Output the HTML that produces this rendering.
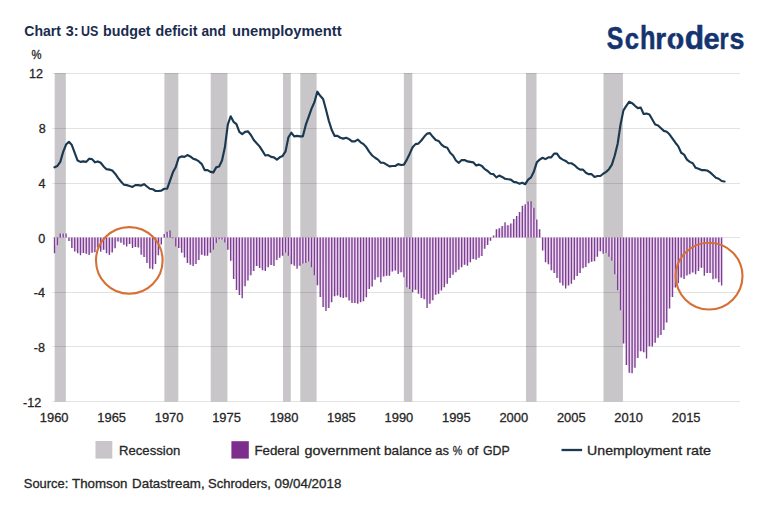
<!DOCTYPE html><html><head><meta charset="utf-8"><style>html,body{margin:0;padding:0;background:#fff;width:768px;height:513px;overflow:hidden}svg{display:block}text{font-family:"Liberation Sans",Arial,sans-serif}.t{stroke:#262626;stroke-width:0.3px;paint-order:stroke}</style></head><body>
<svg width="768" height="513" viewBox="0 0 768 513">
<rect width="768" height="513" fill="#fff"/>
<rect x="54.70" y="73.00" width="11.10" height="328.50" fill="#c8c6c8"/>
<rect x="164.40" y="73.00" width="13.90" height="328.50" fill="#c8c6c8"/>
<rect x="210.70" y="73.00" width="16.70" height="328.50" fill="#c8c6c8"/>
<rect x="283.00" y="73.00" width="7.80" height="328.50" fill="#c8c6c8"/>
<rect x="300.30" y="73.00" width="16.30" height="328.50" fill="#c8c6c8"/>
<rect x="403.90" y="73.00" width="8.40" height="328.50" fill="#c8c6c8"/>
<rect x="526.00" y="73.00" width="10.50" height="328.50" fill="#c8c6c8"/>
<rect x="603.50" y="73.00" width="19.40" height="328.50" fill="#c8c6c8"/>
<line x1="52.5" x2="740" y1="73.50" y2="73.50" stroke="rgba(0,0,0,0.115)" stroke-width="1"/>
<line x1="52.5" x2="740" y1="128.50" y2="128.50" stroke="rgba(0,0,0,0.115)" stroke-width="1"/>
<line x1="52.5" x2="740" y1="183.50" y2="183.50" stroke="rgba(0,0,0,0.115)" stroke-width="1"/>
<line x1="52.5" x2="740" y1="237.50" y2="237.50" stroke="rgba(0,0,0,0.115)" stroke-width="1"/>
<line x1="52.5" x2="740" y1="292.50" y2="292.50" stroke="rgba(0,0,0,0.115)" stroke-width="1"/>
<line x1="52.5" x2="740" y1="346.50" y2="346.50" stroke="rgba(0,0,0,0.115)" stroke-width="1"/>
<line x1="52.5" x2="740" y1="401.50" y2="401.50" stroke="rgba(0,0,0,0.115)" stroke-width="1"/>
<path d="M54.50 237.50H57.39v7.65H54.50zM60.28 233.40H63.16v4.10H60.28zM63.16 233.40H66.05v4.10H63.16zM68.94 237.50H71.83v3.42H68.94zM71.83 237.50H74.72v10.39H71.83zM74.72 237.50H77.60v13.94H74.72zM77.60 237.50H80.49v15.85H77.60zM80.49 237.50H83.38v15.44H80.49zM83.38 237.50H86.27v15.44H83.38zM86.27 237.50H89.16v16.26H86.27zM89.16 237.50H92.04v15.31H89.16zM92.04 237.50H94.93v14.76H92.04zM94.93 237.50H97.82v9.98H94.93zM97.82 237.50H100.71v9.98H97.82zM100.71 237.50H103.60v12.30H100.71zM103.60 237.50H106.48v12.30H103.60zM106.48 237.50H109.37v15.85H106.48zM109.37 237.50H112.26v15.03H109.37zM112.26 237.50H115.15v10.66H112.26zM115.15 237.50H118.04v4.10H115.15zM118.04 237.50H120.92v4.10H118.04zM120.92 237.50H123.81v5.19H120.92zM123.81 237.50H126.70v7.24H123.81zM126.70 237.50H129.59v6.56H126.70zM129.59 237.50H132.48v6.56H129.59zM132.48 237.50H135.36v9.43H132.48zM135.36 237.50H138.25v9.43H135.36zM138.25 237.50H141.14v10.11H138.25zM141.14 237.50H144.03v17.22H141.14zM144.03 237.50H146.92v19.41H144.03zM146.92 237.50H149.80v25.56H146.92zM149.80 237.50H152.69v30.89H149.80zM152.69 237.50H155.58v26.51H152.69zM155.58 237.50H158.47v17.77H155.58zM158.47 237.50H161.36v6.97H158.47zM164.24 234.08H167.13v3.42H164.24zM167.13 231.76H170.02v5.74H167.13zM172.91 237.50H175.80v0.68H172.91zM175.80 237.50H178.68v8.88H175.80zM178.68 237.50H181.57v10.39H178.68zM181.57 237.50H184.46v15.31H181.57zM184.46 237.50H187.35v20.09H184.46zM187.35 237.50H190.24v25.42H187.35zM190.24 237.50H193.12v27.33H190.24zM193.12 237.50H196.01v26.51H193.12zM196.01 237.50H198.90v22.55H196.01zM198.90 237.50H201.79v17.22H198.90zM201.79 237.50H204.68v17.22H201.79zM204.68 237.50H207.56v18.18H204.68zM207.56 237.50H210.45v15.31H207.56zM210.45 237.50H213.34v12.30H210.45zM213.34 237.50H216.23v5.47H213.34zM216.23 237.50H219.12v1.64H216.23zM219.12 237.50H222.00v1.64H219.12zM222.00 237.50H224.89v1.91H222.00zM224.89 237.50H227.78v4.92H224.89zM227.78 237.50H230.67v12.30H227.78zM230.67 237.50H233.56v23.23H230.67zM233.56 237.50H236.44v41.55H233.56zM236.44 237.50H239.33v52.48H236.44zM239.33 237.50H242.22v57.40H239.33zM242.22 237.50H245.11v48.79H242.22zM245.11 237.50H248.00v42.91H245.11zM248.00 237.50H250.88v37.72H248.00zM250.88 237.50H253.77v33.48H250.88zM253.77 237.50H256.66v28.43H253.77zM256.66 237.50H259.55v28.43H256.66zM259.55 237.50H262.44v30.48H259.55zM262.44 237.50H265.32v32.66H262.44zM265.32 237.50H268.21v29.79H265.32zM268.21 237.50H271.10v27.61H268.21zM271.10 237.50H273.99v27.61H271.10zM273.99 237.50H276.88v22.55H273.99zM276.88 237.50H279.76v20.23H276.88zM279.76 237.50H282.65v18.18H279.76zM282.65 237.50H285.54v15.17H282.65zM285.54 237.50H288.43v15.17H285.54zM288.43 237.50H291.32v18.18H288.43zM291.32 237.50H294.20v26.79H291.32zM294.20 237.50H297.09v28.29H294.20zM297.09 237.50H299.98v28.29H297.09zM299.98 237.50H302.87v26.10H299.98zM302.87 237.50H305.76v25.42H302.87zM305.76 237.50H308.64v23.92H305.76zM308.64 237.50H311.53v23.92H308.64zM311.53 237.50H314.42v29.79H311.53zM314.42 237.50H317.31v37.86H314.42zM317.31 237.50H320.20v47.83H317.31zM320.20 237.50H323.08v59.45H320.20zM323.08 237.50H325.97v69.57H323.08zM325.97 237.50H328.86v70.39H325.97zM328.86 237.50H331.75v64.64H328.86zM331.75 237.50H334.64v58.77H331.75zM334.64 237.50H337.52v57.95H334.64zM337.52 237.50H340.41v57.95H337.52zM340.41 237.50H343.30v59.72H340.41zM343.30 237.50H346.19v59.72H343.30zM346.19 237.50H349.08v59.72H346.19zM349.08 237.50H351.96v63.00H349.08zM351.96 237.50H354.85v65.46H351.96zM354.85 237.50H357.74v65.46H354.85zM357.74 237.50H360.63v64.64H357.74zM360.63 237.50H363.52v63.82H360.63zM363.52 237.50H366.40v59.72H363.52zM366.40 237.50H369.29v51.39H366.40zM369.29 237.50H372.18v48.93H369.29zM372.18 237.50H375.07v42.23H372.18zM375.07 237.50H377.96v39.77H375.07zM377.96 237.50H380.84v39.77H377.96zM380.84 237.50H383.73v38.95H380.84zM383.73 237.50H386.62v38.13H383.73zM386.62 237.50H389.51v38.13H386.62zM389.51 237.50H392.40v34.03H389.51zM392.40 237.50H395.28v33.07H392.40zM395.28 237.50H398.17v33.07H395.28zM398.17 237.50H401.06v34.85H398.17zM401.06 237.50H403.95v34.85H401.06zM403.95 237.50H406.84v39.77H403.95zM406.84 237.50H409.72v49.75H406.84zM409.72 237.50H412.61v51.39H409.72zM412.61 237.50H415.50v52.21H412.61zM415.50 237.50H418.39v52.21H415.50zM418.39 237.50H421.28v56.31H418.39zM421.28 237.50H424.16v60.54H421.28zM424.16 237.50H427.05v61.77H424.16zM427.05 237.50H429.94v66.28H427.05zM429.94 237.50H432.83v62.87H429.94zM432.83 237.50H435.72v57.13H432.83zM435.72 237.50H438.60v56.31H435.72zM438.60 237.50H441.49v53.03H438.60zM441.49 237.50H444.38v49.75H441.49zM444.38 237.50H447.27v46.33H444.38zM447.27 237.50H450.16v40.45H447.27zM450.16 237.50H453.04v37.17H450.16zM453.04 237.50H455.93v34.71H453.04zM455.93 237.50H458.82v32.25H455.93zM458.82 237.50H461.71v29.79H458.82zM461.71 237.50H464.60v27.33H461.71zM464.60 237.50H467.48v27.33H464.60zM467.48 237.50H470.37v24.87H467.48zM470.37 237.50H473.26v21.46H470.37zM473.26 237.50H476.15v21.46H473.26zM476.15 237.50H479.04v20.23H476.15zM479.04 237.50H481.92v18.45H479.04zM481.92 237.50H484.81v11.34H481.92zM484.81 237.50H487.70v7.52H484.81zM487.70 237.50H490.59v3.14H487.70zM493.48 235.45H496.36v2.05H493.48zM496.36 229.30H499.25v8.20H496.36zM499.25 228.21H502.14v9.29H499.25zM502.14 226.02H505.03v11.48H502.14zM505.03 225.34H507.92v12.16H505.03zM507.92 225.34H510.80v12.16H507.92zM510.80 223.56H513.69v13.94H510.80zM513.69 219.05H516.58v18.45H513.69zM516.58 215.91H519.47v21.59H516.58zM519.47 212.08H522.36v25.42H519.47zM522.36 205.79H525.24v31.71H522.36zM525.24 204.15H528.13v33.35H525.24zM528.13 201.56H531.02v35.94H528.13zM531.02 207.71H533.91v29.79H531.02zM533.91 219.60H536.80v17.90H533.91zM536.80 229.16H539.68v8.34H536.80zM542.57 237.50H545.46v13.12H542.57zM545.46 237.50H548.35v24.74H545.46zM548.35 237.50H551.24v26.65H548.35zM551.24 237.50H554.12v32.66H551.24zM554.12 237.50H557.01v35.53H554.12zM557.01 237.50H559.90v40.45H557.01zM559.90 237.50H562.79v45.24H559.90zM562.79 237.50H565.68v48.11H562.79zM565.68 237.50H568.56v48.11H565.68zM568.56 237.50H571.45v46.33H568.56zM571.45 237.50H574.34v42.37H571.45zM574.34 237.50H577.23v38.54H574.34zM577.23 237.50H580.12v35.53H577.23zM580.12 237.50H583.00v30.75H580.12zM583.00 237.50H585.89v29.38H583.00zM585.89 237.50H588.78v25.69H585.89zM588.78 237.50H591.67v24.33H588.78zM591.67 237.50H594.56v23.78H591.67zM594.56 237.50H597.44v19.13H594.56zM597.44 237.50H600.33v13.80H597.44zM600.33 237.50H603.22v13.80H600.33zM603.22 237.50H606.11v15.58H603.22zM606.11 237.50H609.00v15.58H606.11zM609.00 237.50H611.88v19.13H609.00zM611.88 237.50H614.77v23.23H611.88zM614.77 237.50H617.66v36.63H614.77zM617.66 237.50H620.55v52.75H617.66zM620.55 237.50H623.44v72.71H620.55zM623.44 237.50H626.32v105.92H623.44zM626.32 237.50H629.21v127.38H626.32zM629.21 237.50H632.10v135.17H629.21zM632.10 237.50H634.99v130.25H632.10zM634.99 237.50H637.88v120.54H634.99zM637.88 237.50H640.76v113.85H637.88zM640.76 237.50H643.65v113.85H640.76zM643.65 237.50H646.54v114.80H643.65zM646.54 237.50H649.43v108.65H646.54zM649.43 237.50H652.32v108.65H649.43zM652.32 237.50H655.20v105.24H652.32zM655.20 237.50H658.09v100.18H655.20zM658.09 237.50H660.98v97.58H658.09zM660.98 237.50H663.87v92.53H660.98zM663.87 237.50H666.76v85.01H663.87zM666.76 237.50H669.64v71.07H666.76zM669.64 237.50H672.53v59.45H669.64zM672.53 237.50H675.42v49.88H672.53zM675.42 237.50H678.31v45.78H675.42zM678.31 237.50H681.20v40.04H678.31zM681.20 237.50H684.08v40.04H681.20zM684.08 237.50H686.97v37.99H684.08zM686.97 237.50H689.86v36.63H686.97zM689.86 237.50H692.75v34.99H689.86zM692.75 237.50H695.64v34.99H692.75zM695.64 237.50H698.52v33.48H695.64zM698.52 237.50H701.41v30.34H698.52zM701.41 237.50H704.30v30.34H701.41zM704.30 237.50H707.19v35.53H704.30zM707.19 237.50H710.08v35.53H707.19zM710.08 237.50H712.96v35.53H710.08zM712.96 237.50H715.85v41.00H712.96zM715.85 237.50H718.74v41.00H715.85zM718.74 237.50H721.63v44.83H718.74z" fill="#ecd6f0"/>
<path d="M53.83 237.50h1.35v15.85h-1.35zM56.71 237.50h1.35v7.65h-1.35zM59.60 233.40h1.35v4.10h-1.35zM62.49 233.40h1.35v4.10h-1.35zM65.38 233.40h1.35v4.10h-1.35zM68.27 237.50h1.35v3.42h-1.35zM71.15 237.50h1.35v10.39h-1.35zM74.04 237.50h1.35v13.94h-1.35zM76.93 237.50h1.35v15.85h-1.35zM79.82 237.50h1.35v17.77h-1.35zM82.70 237.50h1.35v15.44h-1.35zM85.59 237.50h1.35v16.26h-1.35zM88.48 237.50h1.35v17.49h-1.35zM91.37 237.50h1.35v15.31h-1.35zM94.26 237.50h1.35v14.76h-1.35zM97.14 237.50h1.35v9.98h-1.35zM100.03 237.50h1.35v14.35h-1.35zM102.92 237.50h1.35v12.30h-1.35zM105.81 237.50h1.35v15.85h-1.35zM108.70 237.50h1.35v17.49h-1.35zM111.58 237.50h1.35v15.03h-1.35zM114.47 237.50h1.35v10.66h-1.35zM117.36 237.50h1.35v4.10h-1.35zM120.25 237.50h1.35v5.19h-1.35zM123.14 237.50h1.35v7.24h-1.35zM126.03 237.50h1.35v8.88h-1.35zM128.91 237.50h1.35v6.56h-1.35zM131.80 237.50h1.35v10.39h-1.35zM134.69 237.50h1.35v9.43h-1.35zM137.58 237.50h1.35v10.11h-1.35zM140.46 237.50h1.35v17.22h-1.35zM143.35 237.50h1.35v19.41h-1.35zM146.24 237.50h1.35v25.56h-1.35zM149.13 237.50h1.35v30.89h-1.35zM152.02 237.50h1.35v31.84h-1.35zM154.90 237.50h1.35v26.51h-1.35zM157.79 237.50h1.35v17.77h-1.35zM160.68 237.50h1.35v6.97h-1.35zM163.57 234.08h1.35v3.42h-1.35zM166.46 231.76h1.35v5.74h-1.35zM169.34 230.39h1.35v7.11h-1.35zM172.23 237.50h1.35v0.68h-1.35zM175.12 237.50h1.35v8.88h-1.35zM178.01 237.50h1.35v10.39h-1.35zM180.90 237.50h1.35v15.31h-1.35zM183.78 237.50h1.35v20.09h-1.35zM186.67 237.50h1.35v25.42h-1.35zM189.56 237.50h1.35v27.33h-1.35zM192.45 237.50h1.35v28.43h-1.35zM195.34 237.50h1.35v26.51h-1.35zM198.22 237.50h1.35v22.55h-1.35zM201.11 237.50h1.35v17.22h-1.35zM204.00 237.50h1.35v18.18h-1.35zM206.89 237.50h1.35v18.18h-1.35zM209.78 237.50h1.35v15.31h-1.35zM212.66 237.50h1.35v12.30h-1.35zM215.55 237.50h1.35v5.47h-1.35zM218.44 237.50h1.35v1.64h-1.35zM221.33 237.50h1.35v1.91h-1.35zM224.22 237.50h1.35v4.92h-1.35zM227.10 237.50h1.35v12.30h-1.35zM229.99 237.50h1.35v23.23h-1.35zM232.88 237.50h1.35v41.55h-1.35zM235.77 237.50h1.35v52.48h-1.35zM238.66 237.50h1.35v57.40h-1.35zM241.54 237.50h1.35v60.82h-1.35zM244.43 237.50h1.35v48.79h-1.35zM247.32 237.50h1.35v42.91h-1.35zM250.21 237.50h1.35v37.72h-1.35zM253.10 237.50h1.35v33.48h-1.35zM255.98 237.50h1.35v28.43h-1.35zM258.87 237.50h1.35v30.48h-1.35zM261.76 237.50h1.35v32.66h-1.35zM264.65 237.50h1.35v33.48h-1.35zM267.54 237.50h1.35v29.79h-1.35zM270.43 237.50h1.35v27.61h-1.35zM273.31 237.50h1.35v28.43h-1.35zM276.20 237.50h1.35v22.55h-1.35zM279.09 237.50h1.35v20.23h-1.35zM281.98 237.50h1.35v18.18h-1.35zM284.86 237.50h1.35v15.17h-1.35zM287.75 237.50h1.35v18.18h-1.35zM290.64 237.50h1.35v26.79h-1.35zM293.53 237.50h1.35v28.29h-1.35zM296.42 237.50h1.35v31.30h-1.35zM299.31 237.50h1.35v28.29h-1.35zM302.19 237.50h1.35v26.10h-1.35zM305.08 237.50h1.35v25.42h-1.35zM307.97 237.50h1.35v23.92h-1.35zM310.86 237.50h1.35v29.79h-1.35zM313.75 237.50h1.35v37.86h-1.35zM316.63 237.50h1.35v47.83h-1.35zM319.52 237.50h1.35v59.45h-1.35zM322.41 237.50h1.35v69.57h-1.35zM325.30 237.50h1.35v73.39h-1.35zM328.19 237.50h1.35v70.39h-1.35zM331.07 237.50h1.35v64.64h-1.35zM333.96 237.50h1.35v58.77h-1.35zM336.85 237.50h1.35v57.95h-1.35zM339.74 237.50h1.35v59.72h-1.35zM342.62 237.50h1.35v60.54h-1.35zM345.51 237.50h1.35v59.72h-1.35zM348.40 237.50h1.35v63.00h-1.35zM351.29 237.50h1.35v65.46h-1.35zM354.18 237.50h1.35v65.46h-1.35zM357.06 237.50h1.35v66.28h-1.35zM359.95 237.50h1.35v64.64h-1.35zM362.84 237.50h1.35v63.82h-1.35zM365.73 237.50h1.35v59.72h-1.35zM368.62 237.50h1.35v51.39h-1.35zM371.50 237.50h1.35v48.93h-1.35zM374.39 237.50h1.35v42.23h-1.35zM377.28 237.50h1.35v39.77h-1.35zM380.17 237.50h1.35v44.69h-1.35zM383.06 237.50h1.35v38.95h-1.35zM385.94 237.50h1.35v38.13h-1.35zM388.83 237.50h1.35v38.13h-1.35zM391.72 237.50h1.35v34.03h-1.35zM394.61 237.50h1.35v33.07h-1.35zM397.50 237.50h1.35v36.49h-1.35zM400.38 237.50h1.35v34.85h-1.35zM403.27 237.50h1.35v39.77h-1.35zM406.16 237.50h1.35v49.75h-1.35zM409.05 237.50h1.35v51.39h-1.35zM411.94 237.50h1.35v54.67h-1.35zM414.82 237.50h1.35v52.21h-1.35zM417.71 237.50h1.35v56.31h-1.35zM420.60 237.50h1.35v60.54h-1.35zM423.49 237.50h1.35v61.77h-1.35zM426.38 237.50h1.35v70.39h-1.35zM429.26 237.50h1.35v66.28h-1.35zM432.15 237.50h1.35v62.87h-1.35zM435.04 237.50h1.35v57.13h-1.35zM437.93 237.50h1.35v56.31h-1.35zM440.82 237.50h1.35v53.03h-1.35zM443.70 237.50h1.35v49.75h-1.35zM446.59 237.50h1.35v46.33h-1.35zM449.48 237.50h1.35v40.45h-1.35zM452.37 237.50h1.35v37.17h-1.35zM455.26 237.50h1.35v34.71h-1.35zM458.14 237.50h1.35v32.25h-1.35zM461.03 237.50h1.35v29.79h-1.35zM463.92 237.50h1.35v27.33h-1.35zM466.81 237.50h1.35v28.15h-1.35zM469.70 237.50h1.35v24.87h-1.35zM472.58 237.50h1.35v21.46h-1.35zM475.47 237.50h1.35v22.28h-1.35zM478.36 237.50h1.35v20.23h-1.35zM481.25 237.50h1.35v18.45h-1.35zM484.14 237.50h1.35v11.34h-1.35zM487.02 237.50h1.35v7.52h-1.35zM489.91 237.50h1.35v3.14h-1.35zM492.80 235.45h1.35v2.05h-1.35zM495.69 229.30h1.35v8.20h-1.35zM498.58 228.21h1.35v9.29h-1.35zM501.46 226.02h1.35v11.48h-1.35zM504.35 222.19h1.35v15.31h-1.35zM507.24 225.34h1.35v12.16h-1.35zM510.13 223.56h1.35v13.94h-1.35zM513.02 219.05h1.35v18.45h-1.35zM515.90 215.91h1.35v21.59h-1.35zM518.79 212.08h1.35v25.42h-1.35zM521.68 205.79h1.35v31.71h-1.35zM524.57 204.15h1.35v33.35h-1.35zM527.46 201.56h1.35v35.94h-1.35zM530.35 201.28h1.35v36.22h-1.35zM533.23 207.71h1.35v29.79h-1.35zM536.12 219.60h1.35v17.90h-1.35zM539.01 229.16h1.35v8.34h-1.35zM541.90 237.50h1.35v13.12h-1.35zM544.79 237.50h1.35v24.74h-1.35zM547.67 237.50h1.35v26.65h-1.35zM550.56 237.50h1.35v32.66h-1.35zM553.45 237.50h1.35v35.53h-1.35zM556.34 237.50h1.35v40.45h-1.35zM559.23 237.50h1.35v45.24h-1.35zM562.11 237.50h1.35v48.11h-1.35zM565.00 237.50h1.35v51.11h-1.35zM567.89 237.50h1.35v48.11h-1.35zM570.78 237.50h1.35v46.33h-1.35zM573.67 237.50h1.35v42.37h-1.35zM576.55 237.50h1.35v38.54h-1.35zM579.44 237.50h1.35v35.53h-1.35zM582.33 237.50h1.35v30.75h-1.35zM585.22 237.50h1.35v29.38h-1.35zM588.11 237.50h1.35v25.69h-1.35zM590.99 237.50h1.35v24.33h-1.35zM593.88 237.50h1.35v23.78h-1.35zM596.77 237.50h1.35v19.13h-1.35zM599.66 237.50h1.35v13.80h-1.35zM602.55 237.50h1.35v16.13h-1.35zM605.43 237.50h1.35v15.58h-1.35zM608.32 237.50h1.35v19.13h-1.35zM611.21 237.50h1.35v23.23h-1.35zM614.10 237.50h1.35v36.63h-1.35zM616.99 237.50h1.35v52.75h-1.35zM619.87 237.50h1.35v72.71h-1.35zM622.76 237.50h1.35v105.92h-1.35zM625.65 237.50h1.35v127.38h-1.35zM628.54 237.50h1.35v135.17h-1.35zM631.43 237.50h1.35v135.71h-1.35zM634.31 237.50h1.35v130.25h-1.35zM637.20 237.50h1.35v120.54h-1.35zM640.09 237.50h1.35v113.85h-1.35zM642.98 237.50h1.35v114.80h-1.35zM645.87 237.50h1.35v120.95h-1.35zM648.75 237.50h1.35v108.65h-1.35zM651.64 237.50h1.35v109.06h-1.35zM654.53 237.50h1.35v105.24h-1.35zM657.42 237.50h1.35v100.18h-1.35zM660.31 237.50h1.35v97.58h-1.35zM663.19 237.50h1.35v92.53h-1.35zM666.08 237.50h1.35v85.01h-1.35zM668.97 237.50h1.35v71.07h-1.35zM671.86 237.50h1.35v59.45h-1.35zM674.75 237.50h1.35v49.88h-1.35zM677.63 237.50h1.35v45.78h-1.35zM680.52 237.50h1.35v40.04h-1.35zM683.41 237.50h1.35v41.41h-1.35zM686.30 237.50h1.35v37.99h-1.35zM689.19 237.50h1.35v36.63h-1.35zM692.07 237.50h1.35v34.99h-1.35zM694.96 237.50h1.35v36.63h-1.35zM697.85 237.50h1.35v33.48h-1.35zM700.74 237.50h1.35v30.34h-1.35zM703.62 237.50h1.35v38.13h-1.35zM706.51 237.50h1.35v35.53h-1.35zM709.40 237.50h1.35v35.53h-1.35zM712.29 237.50h1.35v41.68h-1.35zM715.18 237.50h1.35v41.00h-1.35zM718.07 237.50h1.35v44.83h-1.35zM720.95 237.50h1.35v47.97h-1.35z" fill="#7a3f90"/>
<polyline points="54.50,167.34 57.39,165.98 60.28,161.88 63.16,151.85 66.05,144.56 68.94,141.83 71.83,145.02 74.72,152.76 77.60,160.51 80.49,161.88 83.38,161.42 86.27,161.88 89.16,158.69 92.04,159.14 94.93,162.33 97.82,161.42 100.71,162.79 103.60,166.43 106.48,169.17 109.37,169.62 112.26,170.53 115.15,173.72 118.04,177.82 120.92,181.47 123.81,184.65 126.70,185.11 129.59,186.02 132.48,186.93 135.36,185.11 138.25,185.11 141.14,185.57 144.03,184.20 146.92,186.48 149.80,188.75 152.69,189.21 155.58,191.03 158.47,191.03 161.36,190.58 164.24,188.75 167.13,188.75 170.02,180.55 172.91,172.35 175.80,166.89 178.68,157.78 181.57,156.41 184.46,156.86 187.35,155.04 190.24,156.41 193.12,158.69 196.01,159.60 198.90,161.42 201.79,164.15 204.68,170.08 207.56,170.08 210.45,171.90 213.34,172.35 216.23,167.34 219.12,166.43 222.00,160.51 224.89,147.30 227.78,124.52 230.67,116.32 233.56,121.79 236.44,124.06 239.33,131.81 242.22,134.09 245.11,131.81 248.00,131.35 250.88,135.00 253.77,140.01 256.66,143.20 259.55,146.39 262.44,150.94 265.32,155.50 268.21,155.04 271.10,156.86 273.99,157.32 276.88,159.60 279.76,157.32 282.65,155.95 285.54,151.40 288.43,137.28 291.32,132.72 294.20,136.36 297.09,135.91 299.98,136.36 302.87,136.36 305.76,124.98 308.64,116.77 311.53,108.57 314.42,102.20 317.31,91.72 320.20,95.82 323.08,99.01 325.97,109.49 328.86,120.87 331.75,129.99 334.64,135.91 337.52,135.91 340.41,137.73 343.30,138.64 346.19,137.73 349.08,139.10 351.96,141.38 354.85,141.38 357.74,139.55 360.63,142.29 363.52,144.11 366.40,147.30 369.29,151.85 372.18,155.50 375.07,157.78 377.96,159.60 380.84,162.79 383.73,162.79 386.62,164.61 389.51,166.43 392.40,165.98 395.28,165.98 398.17,164.15 401.06,165.06 403.95,164.61 406.84,159.60 409.72,153.68 412.61,147.30 415.50,144.11 418.39,143.65 421.28,140.46 424.16,136.82 427.05,133.63 429.94,133.18 432.83,136.82 435.72,140.01 438.60,140.92 441.49,144.56 444.38,146.84 447.27,147.75 450.16,152.76 453.04,155.50 455.93,160.51 458.82,162.79 461.71,160.05 464.60,160.05 467.48,161.42 470.37,161.88 473.26,162.33 476.15,165.52 479.04,164.61 481.92,165.98 484.81,169.17 487.70,170.99 490.59,173.72 493.48,174.18 496.36,177.37 499.25,175.54 502.14,176.91 505.03,178.73 507.92,179.19 510.80,179.64 513.69,181.92 516.58,182.38 519.47,183.74 522.36,182.83 525.24,184.20 528.13,179.64 531.02,177.37 533.91,171.44 536.80,162.33 539.68,159.60 542.57,157.78 545.46,159.14 548.35,157.32 551.24,157.32 554.12,153.68 557.01,153.68 559.90,157.78 562.79,159.60 565.68,160.96 568.56,163.24 571.45,163.24 574.34,165.06 577.23,167.80 580.12,169.62 583.00,169.62 585.89,172.81 588.78,174.18 591.67,174.18 594.56,176.91 597.44,176.00 600.33,176.00 603.22,173.72 606.11,171.90 609.00,169.17 611.88,164.61 614.77,155.50 617.66,143.65 620.55,124.52 623.44,110.40 626.32,105.84 629.21,101.74 632.10,103.11 634.99,105.84 637.88,108.12 640.76,107.66 643.65,114.04 646.54,113.59 649.43,114.50 652.32,119.51 655.20,124.52 658.09,125.43 660.98,128.16 663.87,130.90 666.76,131.81 669.64,134.54 672.53,138.64 675.42,142.74 678.31,146.39 681.20,152.76 684.08,154.59 686.97,159.60 689.86,161.88 692.75,163.24 695.64,167.80 698.52,168.71 701.41,170.08 704.30,170.08 707.19,170.53 710.08,172.35 712.96,175.09 715.85,177.82 718.74,178.73 721.63,181.01 724.52,181.47" fill="none" stroke="#1a3850" stroke-width="2.15" stroke-linejoin="round" stroke-linecap="round"/>
<ellipse cx="129.3" cy="260.4" rx="33.3" ry="33.3" fill="none" stroke="#d76f35" stroke-width="2.1"/>
<ellipse cx="709.1" cy="276.1" rx="33.4" ry="33.4" fill="none" stroke="#d76f35" stroke-width="2.1"/>
<text x="42.9" y="77.5" text-anchor="end" font-size="12.6" fill="#262626" class="t">12</text>
<text x="45.8" y="132.5" text-anchor="end" font-size="12.6" fill="#262626" class="t">8</text>
<text x="45.6" y="187.6" text-anchor="end" font-size="12.6" fill="#262626" class="t">4</text>
<text x="45.3" y="242.5" text-anchor="end" font-size="12.6" fill="#262626" class="t">0</text>
<text x="45.0" y="297.2" text-anchor="end" font-size="12.6" fill="#262626" class="t">-4</text>
<text x="45.0" y="352.2" text-anchor="end" font-size="12.6" fill="#262626" class="t">-8</text>
<text x="41.2" y="407" text-anchor="end" font-size="12.6" fill="#262626" class="t">-12</text>
<text x="31.6" y="58.6" font-size="12.2" textLength="10" lengthAdjust="spacingAndGlyphs" fill="#262626" class="t">%</text>
<text x="54.20" y="422.3" text-anchor="middle" font-size="12.9" fill="#262626" class="t">1960</text>
<text x="111.65" y="422.3" text-anchor="middle" font-size="12.9" fill="#262626" class="t">1965</text>
<text x="169.10" y="422.3" text-anchor="middle" font-size="12.9" fill="#262626" class="t">1970</text>
<text x="226.55" y="422.3" text-anchor="middle" font-size="12.9" fill="#262626" class="t">1975</text>
<text x="284.00" y="422.3" text-anchor="middle" font-size="12.9" fill="#262626" class="t">1980</text>
<text x="341.45" y="422.3" text-anchor="middle" font-size="12.9" fill="#262626" class="t">1985</text>
<text x="398.90" y="422.3" text-anchor="middle" font-size="12.9" fill="#262626" class="t">1990</text>
<text x="456.35" y="422.3" text-anchor="middle" font-size="12.9" fill="#262626" class="t">1995</text>
<text x="513.80" y="422.3" text-anchor="middle" font-size="12.9" fill="#262626" class="t">2000</text>
<text x="571.25" y="422.3" text-anchor="middle" font-size="12.9" fill="#262626" class="t">2005</text>
<text x="628.70" y="422.3" text-anchor="middle" font-size="12.9" fill="#262626" class="t">2010</text>
<text x="686.15" y="422.3" text-anchor="middle" font-size="12.9" fill="#262626" class="t">2015</text>
<text x="24.39" y="35.8" font-size="14" font-weight="bold" fill="#1a2c4e" textLength="36.62" lengthAdjust="spacingAndGlyphs">Chart</text>
<text x="65.69" y="35.8" font-size="14" font-weight="bold" fill="#1a2c4e" textLength="12.79" lengthAdjust="spacingAndGlyphs">3:</text>
<text x="81.00" y="35.8" font-size="14" font-weight="bold" fill="#1a2c4e" textLength="17.34" lengthAdjust="spacingAndGlyphs">US</text>
<text x="103.12" y="35.8" font-size="14" font-weight="bold" fill="#1a2c4e" textLength="47.51" lengthAdjust="spacingAndGlyphs">budget</text>
<text x="155.58" y="35.8" font-size="14" font-weight="bold" fill="#1a2c4e" textLength="41.88" lengthAdjust="spacingAndGlyphs">deficit</text>
<text x="201.44" y="35.8" font-size="14" font-weight="bold" fill="#1a2c4e" textLength="24.34" lengthAdjust="spacingAndGlyphs">and</text>
<text x="231.97" y="35.8" font-size="14" font-weight="bold" fill="#1a2c4e" textLength="109.60" lengthAdjust="spacingAndGlyphs">unemploymentt</text>
<text transform="translate(606.80,49.4) scale(0.809,0.99)" font-size="30.8" font-weight="bold" fill="#15346f" stroke="#15346f" stroke-width="0.5">S</text>
<text transform="translate(624.82,49.4) scale(0.835,0.95)" font-size="30.8" font-weight="bold" fill="#15346f" stroke="#15346f" stroke-width="0.5">c</text>
<text transform="translate(639.97,49.4) scale(0.825,1.05)" font-size="30.8" font-weight="bold" fill="#15346f" stroke="#15346f" stroke-width="0.5">h</text>
<text transform="translate(655.29,49.4) scale(0.909,0.95)" font-size="30.8" font-weight="bold" fill="#15346f" stroke="#15346f" stroke-width="0.5">r</text>
<text transform="translate(666.86,49.4) scale(0.928,0.95)" font-size="30.8" font-weight="bold" fill="#15346f" stroke="#15346f" stroke-width="0.5">o</text>
<text transform="translate(684.68,49.4) scale(1.032,1.05)" font-size="30.8" font-weight="bold" fill="#15346f" stroke="#15346f" stroke-width="0.5">d</text>
<text transform="translate(703.58,49.4) scale(0.947,0.95)" font-size="30.8" font-weight="bold" fill="#15346f" stroke="#15346f" stroke-width="0.5">e</text>
<text transform="translate(719.52,49.4) scale(0.758,0.95)" font-size="30.8" font-weight="bold" fill="#15346f" stroke="#15346f" stroke-width="0.5">r</text>
<text transform="translate(729.42,49.4) scale(0.874,0.95)" font-size="30.8" font-weight="bold" fill="#15346f" stroke="#15346f" stroke-width="0.5">s</text>
<rect x="675.5" y="32" width="0.95" height="18.5" fill="#eef2fa"/>
<rect x="95.5" y="441" width="16.8" height="17.6" fill="#c8c6c8"/>
<text x="118.95" y="455.1" font-size="13.3" fill="#262626" class="t" textLength="61.39" lengthAdjust="spacingAndGlyphs">Recession</text>
<rect x="231.4" y="441.2" width="17.4" height="17.4" fill="#7d2d8c"/>
<text x="254.43" y="455.1" font-size="13.3" fill="#262626" class="t" textLength="45.14" lengthAdjust="spacingAndGlyphs">Federal</text>
<text x="304.43" y="455.1" font-size="13.3" fill="#262626" class="t" textLength="75.76" lengthAdjust="spacingAndGlyphs">government</text>
<text x="384.01" y="455.1" font-size="13.3" fill="#262626" class="t" textLength="47.84" lengthAdjust="spacingAndGlyphs">balance</text>
<text x="435.18" y="455.1" font-size="13.3" fill="#262626" class="t" textLength="13.69" lengthAdjust="spacingAndGlyphs">as</text>
<text x="452.82" y="455.1" font-size="13.3" fill="#262626" class="t" textLength="9.54" lengthAdjust="spacingAndGlyphs">%</text>
<text x="467.07" y="455.1" font-size="13.3" fill="#262626" class="t" textLength="11.12" lengthAdjust="spacingAndGlyphs">of</text>
<text x="482.98" y="455.1" font-size="13.3" fill="#262626" class="t" textLength="26.76" lengthAdjust="spacingAndGlyphs">GDP</text>
<line x1="561.5" x2="582.1" y1="450" y2="450" stroke="#1a3850" stroke-width="2.3"/>
<text x="587.14" y="455.1" font-size="13.3" fill="#262626" class="t" textLength="95.03" lengthAdjust="spacingAndGlyphs">Unemployment</text>
<text x="686.27" y="455.1" font-size="13.3" fill="#262626" class="t" textLength="24.72" lengthAdjust="spacingAndGlyphs">rate</text>
<text x="23.82" y="488" font-size="12.9" fill="#262626" class="t" textLength="44.46" lengthAdjust="spacingAndGlyphs">Source:</text>
<text x="72.03" y="488" font-size="12.9" fill="#262626" class="t" textLength="55.48" lengthAdjust="spacingAndGlyphs">Thomson</text>
<text x="132.13" y="488" font-size="12.9" fill="#262626" class="t" textLength="72.52" lengthAdjust="spacingAndGlyphs">Datastream,</text>
<text x="208.01" y="488" font-size="12.9" fill="#262626" class="t" textLength="63.00" lengthAdjust="spacingAndGlyphs">Schroders,</text>
<text x="274.47" y="488" font-size="12.9" fill="#262626" class="t" textLength="66.87" lengthAdjust="spacingAndGlyphs">09/04/2018</text>
</svg></body></html>
